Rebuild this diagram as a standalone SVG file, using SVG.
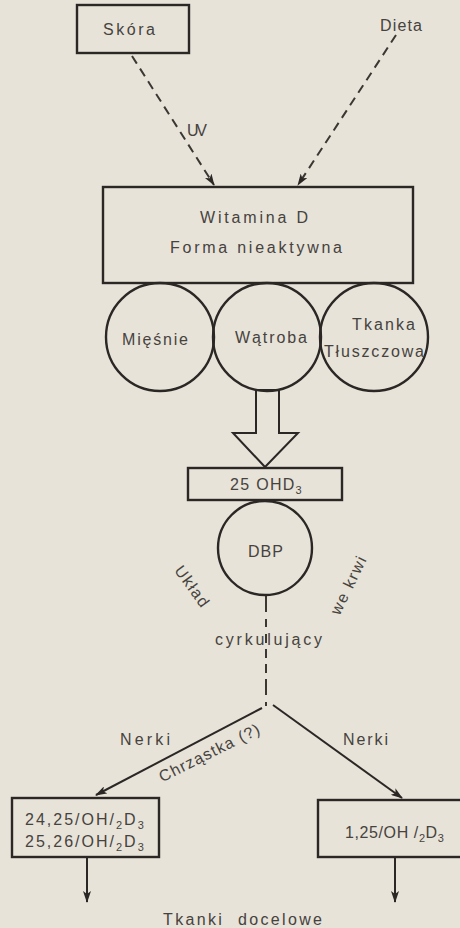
<svg xmlns="http://www.w3.org/2000/svg" width="460" height="928" viewBox="0 0 460 928">
<style>
.t{font-family:"Liberation Sans","DejaVu Sans",sans-serif;font-size:16px;fill:#46423d}
.s{font-size:11px}
.box{fill:none;stroke:#2b2724;stroke-width:2.4}
.ln{fill:none;stroke:#2b2724;stroke-width:2}
.dash{fill:none;stroke:#3b3733;stroke-width:2;stroke-dasharray:9 6}
</style>
<defs>
<marker id="ah" viewBox="0 0 12 8" refX="11" refY="4" markerWidth="12" markerHeight="8" markerUnits="userSpaceOnUse" orient="auto">
<path d="M0,0 L12,4 L0,8 L3,4 Z" fill="#2b2724"/>
</marker>
</defs>
<rect width="460" height="928" fill="#e7e3d9"/>
<g id="connectors">
<line class="dash" x1="132" y1="56" x2="214" y2="185" marker-end="url(#ah)"/>
<line class="dash" x1="396" y1="35" x2="298" y2="185" marker-end="url(#ah)"/>
<polygon class="ln" points="256,390 279,390 279,433 298,433 265,467 233,433 256,433" fill="#e7e3d9"/>
<path class="dash" d="M266,596 V706" style="stroke-dasharray:16 7 8 7 9 6 9 6 9 6"/>
<line class="ln" x1="262" y1="708" x2="96" y2="795" marker-end="url(#ah)"/>
<line class="ln" x1="273" y1="705" x2="402" y2="798" marker-end="url(#ah)"/>
<line class="ln" x1="87" y1="858" x2="87" y2="902" marker-end="url(#ah)"/>
<line class="ln" x1="395" y1="858" x2="395" y2="902" marker-end="url(#ah)"/>
</g>
<g id="skora">
<rect class="box" x="77" y="5" width="112" height="48"/>
<text class="t" x="103" y="35" textLength="52">Skóra</text>
</g>
<g id="dieta">
<text class="t" x="380" y="31" font-size="15" textLength="42">Dieta</text>
</g>
<g id="uv-label">
<text class="t" x="187" y="136" font-size="15" textLength="20">UV</text>
</g>
<g id="witamina">
<rect class="box" x="103" y="187" width="310" height="96"/>
<text class="t" x="200" y="223" textLength="108">Witamina D</text>
<text class="t" x="170" y="253" textLength="172">Forma nieaktywna</text>
</g>
<g id="miesnie">
<circle class="box" cx="160" cy="337" r="54"/>
<text class="t" x="122" y="345" textLength="66">Mięśnie</text>
</g>
<g id="watroba">
<circle class="box" cx="267" cy="337" r="54"/>
<text class="t" x="235" y="343" textLength="72">Wątroba</text>
</g>
<g id="tkanka">
<circle class="box" cx="374" cy="337" r="54"/>
<text class="t" x="352" y="330" textLength="63">Tkanka</text>
<text class="t" x="324" y="357" textLength="100">Tłuszczowa</text>
</g>
<g id="ohd3">
<rect class="box" x="188" y="468" width="154" height="32"/>
<text class="t" x="230" y="490" letter-spacing="1.3">25 OHD<tspan class="s" dy="4">3</tspan></text>
</g>
<g id="dbp">
<circle class="box" cx="265" cy="548" r="47"/>
<text class="t" x="248" y="557" textLength="35">DBP</text>
</g>
<g id="uklad">
<text class="t" x="188" y="590" text-anchor="middle" transform="rotate(54 188 590)" letter-spacing="1.5">Układ</text>
</g>
<g id="wekrwi">
<text class="t" x="349" y="590" text-anchor="middle" transform="rotate(-64 349 585)" letter-spacing="1.5">we krwi</text>
</g>
<g id="cyrk">
<text class="t" x="215" y="645" textLength="107">cyrkulujący</text>
</g>
<g id="nerki-l">
<text class="t" x="120" y="745" textLength="50">Nerki</text>
</g>
<g id="nerki-r">
<text class="t" x="343" y="745" textLength="45">Nerki</text>
</g>
<g id="chrzastka">
<text class="t" x="210" y="758" text-anchor="middle" transform="rotate(-26.6 210 753)" letter-spacing="1.2">Chrząstka (?)</text>
</g>
<g id="box-left">
<rect class="box" x="12" y="798" width="147" height="59"/>
<text class="t" x="25" y="825" letter-spacing="2">24,25/OH/<tspan class="s" dy="4">2</tspan><tspan dy="-4">D</tspan><tspan class="s" dy="4">3</tspan></text>
<text class="t" x="25" y="847" letter-spacing="2">25,26/OH/<tspan class="s" dy="4">2</tspan><tspan dy="-4">D</tspan><tspan class="s" dy="4">3</tspan></text>
</g>
<g id="box-right">
<rect class="box" x="318" y="800" width="150" height="57"/>
<text class="t" x="345" y="838" letter-spacing="0.6">1,25/OH /<tspan class="s" dy="4">2</tspan><tspan dy="-4">D</tspan><tspan class="s" dy="4">3</tspan></text>
</g>
<g id="tkanki">
<text class="t" x="163" y="925" textLength="159" xml:space="preserve">Tkanki  docelowe</text>
</g>
</svg>
